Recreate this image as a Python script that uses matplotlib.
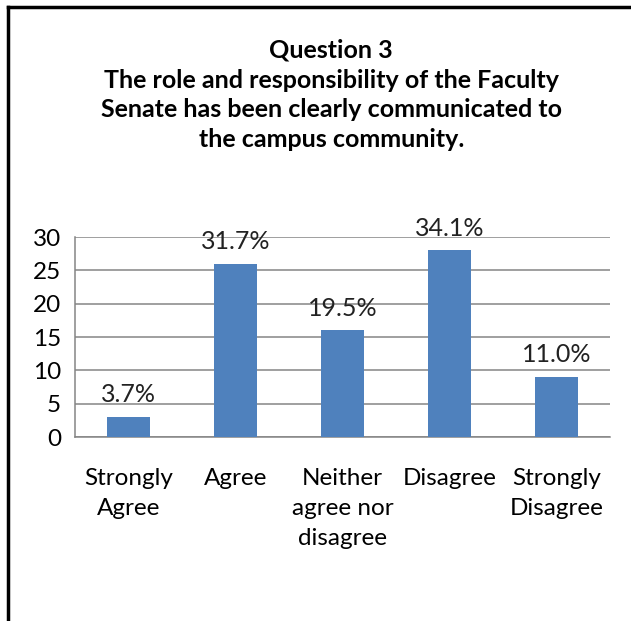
import matplotlib.pyplot as plt
from matplotlib.lines import Line2D

# survey responses for question 3
categories = ["Strongly\nAgree", "Agree", "Neither\nagree nor\ndisagree", "Disagree", "Strongly\nDisagree"]
counts = [3, 26, 16, 28, 9]
yticks = [0, 5, 10, 15, 20, 25, 30]
title = ("Question 3\nThe role and responsibility of the Faculty\n"
         "Senate has been clearly communicated to\nthe campus community.")

total = sum(counts)
percents = [c / total * 100 for c in counts]

plt.rcParams['font.family'] = ['Lato', 'DejaVu Sans']

fig = plt.figure(figsize=(6.31, 6.21), dpi=100)
fig.patch.set_facecolor('white')

# outer frame (top and left edges only)
fig.add_artist(Line2D([8 / 631, 1.0], [1 - 7 / 621, 1 - 7 / 621], color='black', lw=2.5,
                      transform=fig.transFigure))
fig.add_artist(Line2D([8 / 631, 8 / 631], [0.0, 1 - 7 / 621], color='black', lw=2.5,
                      transform=fig.transFigure))

fig.text(0.525, 1 - 95 / 621, title, ha='center', va='center', fontsize=18,
         fontweight='bold', linespacing=1.36)

ax = fig.add_axes([75 / 631, 1 - 437 / 621, 535 / 631, 200 / 621])
x = range(len(categories))
bars = ax.bar(x, counts, width=0.4, color='#4F81BD', zorder=3)

for xi, c, p in zip(x, counts, percents):
    ax.annotate(f"{p:.1f}%", (xi, c), xytext=(0, 16), textcoords='offset points',
                ha='center', va='center', fontsize=18, color='#222222')

ax.set_xlim(-0.5, len(categories) - 0.5)
ax.set_ylim(0, 30)
ax.set_yticks(yticks)
ax.yaxis.grid(True, color='#858585', lw=1.1, zorder=0)
ax.set_xticks(list(x))
ax.set_xticklabels(categories, fontsize=17.5, linespacing=1.55)
ax.tick_params(axis='x', length=0, pad=22)
ax.tick_params(axis='y', length=0, pad=10, labelsize=17.5)
for s in ['top', 'right']:
    ax.spines[s].set_visible(False)
for s in ['left', 'bottom']:
    ax.spines[s].set_color('#858585')
    ax.spines[s].set_linewidth(1.1)

fig.savefig('out.png', dpi=100)
